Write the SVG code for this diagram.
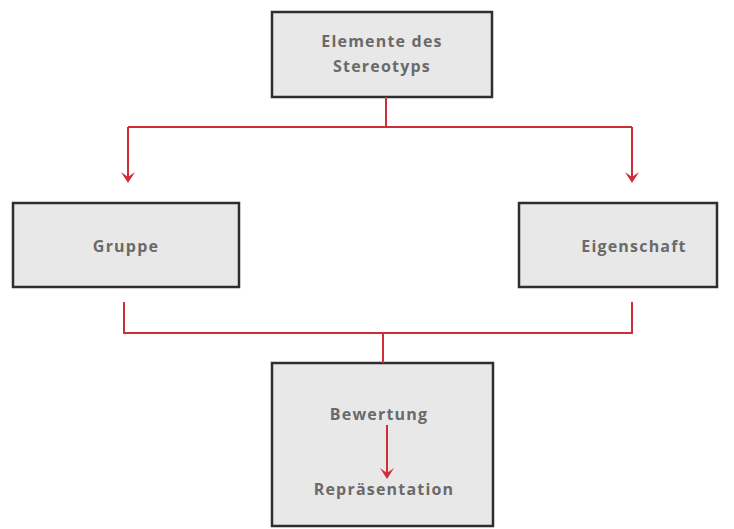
<svg xmlns="http://www.w3.org/2000/svg" width="734" height="529" viewBox="0 0 734 529">
<style>
.box{fill:#e8e8e8;stroke:#2e2e2e;stroke-width:2.5}
.lbl{font-family:"Open Sans","Liberation Sans",sans-serif;font-weight:bold;font-size:16px;fill:#6a6a6a;text-anchor:middle;letter-spacing:1.2px}
.con{fill:none;stroke:#cf2e38;stroke-width:2}
.ah{fill:#cf2e38}
</style>
<rect width="734" height="529" fill="#ffffff"/>
<g id="node-elemente">
<rect class="box" x="272" y="12" width="220" height="85"/>
<text class="lbl" x="382" y="47">Elemente des</text>
<text class="lbl" x="382" y="72">Stereotyps</text>
</g>
<g id="node-gruppe">
<rect class="box" x="13" y="203" width="226" height="84"/>
<text class="lbl" x="126" y="252">Gruppe</text>
</g>
<g id="node-eigenschaft">
<rect class="box" x="519" y="203" width="198" height="84"/>
<text class="lbl" x="634" y="252">Eigenschaft</text>
</g>
<g id="node-bewertung">
<rect class="box" x="272" y="363" width="221" height="163"/>
<text class="lbl" x="379" y="420">Bewertung</text>
<text class="lbl" x="384" y="495">Repräsentation</text>
</g>
<g id="connectors">
<path class="con" d="M386,97 V127"/>
<path class="con" d="M128,127 H632"/>
<path class="con" d="M128,127 V180"/>
<path class="con" d="M632,127 V180"/>
<path class="con" d="M124,302 V333 H632 V302"/>
<path class="con" d="M383,333 V363"/>
<path class="con" d="M387,425 V476"/>
<path class="ah" d="M121,172 L128,183 L135,172 L128,177 Z"/>
<path class="ah" d="M625,172 L632,183 L639,172 L632,177 Z"/>
<path class="ah" d="M380,468 L387,479 L394,468 L387,473 Z"/>
</g>
</svg>
